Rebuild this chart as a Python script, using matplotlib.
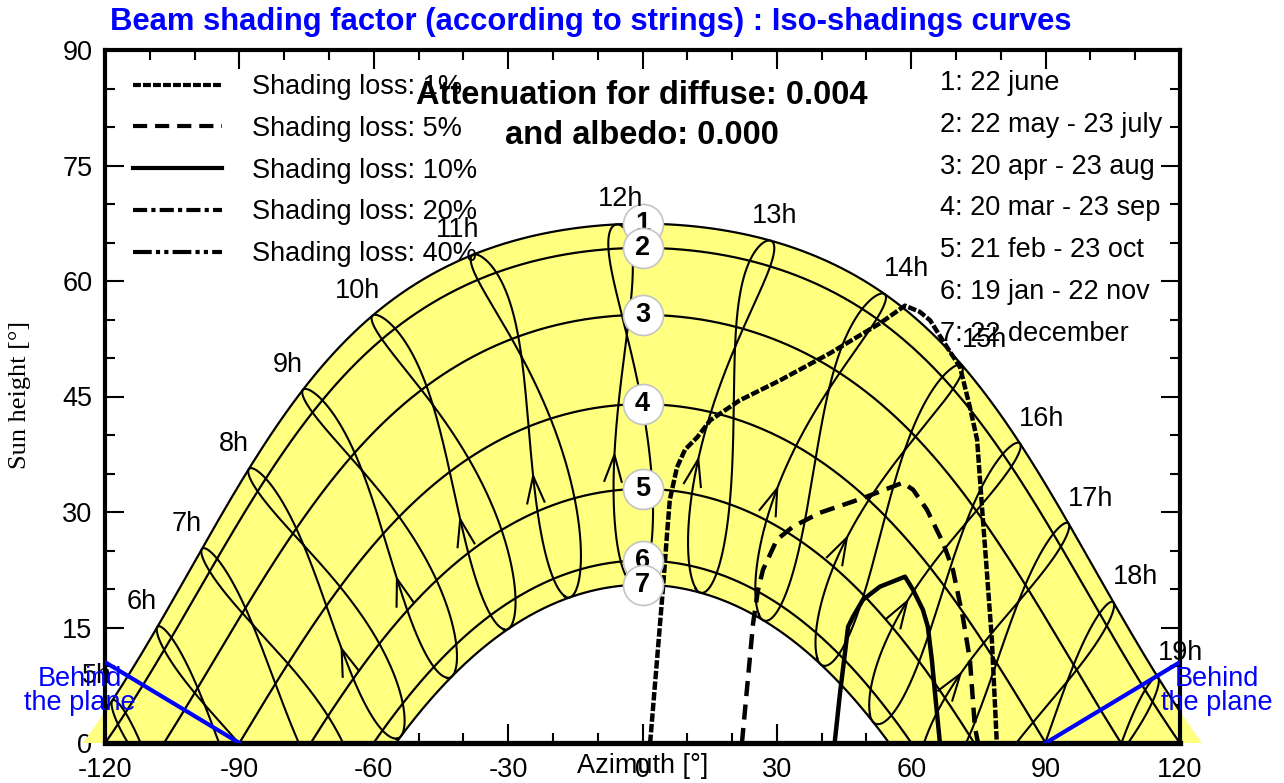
import numpy as np
import matplotlib
matplotlib.use("Agg")
import matplotlib.pyplot as plt
from matplotlib.lines import Line2D
from matplotlib.patches import Rectangle
from matplotlib.ticker import MultipleLocator

# ---------------------------------------------------------------- site / sun path
latitude = 46.0            # degrees north
time_shift_min = -8.0      # legal time -> mean solar time (minutes)
date_numbers = ["1", "2", "3", "4", "5", "6", "7"]
date_labels = ["1: 22 june", "2: 22 may - 23 july", "3: 20 apr - 23 aug",
               "4: 20 mar - 23 sep", "5: 21 feb - 23 oct", "6: 19 jan - 22 nov",
               "7: 22 december"]
declinations = [23.44, 20.3, 11.6, 0.0, -11.0, -20.3, -23.44]
hours = list(range(5, 20))
june_day = 173
arrow_day = 65

# ---------------------------------------------------------------- iso-shading curves
loss1_az = [1.7, 4.6, 5.5, 6.1, 7.7, 9.5, 12.2, 15.1, 21.7, 30.7, 41.8, 53.0, 58.6,
            61.9, 64.2, 68.0, 70.9, 73.1, 74.7, 75.8, 76.9, 78.0, 79.1]
loss1_h = [0.0, 20.3, 27.3, 31.6, 35.8, 38.1, 39.7, 41.9, 44.5, 47.1, 50.6, 54.5, 56.8,
           56.0, 54.9, 51.4, 48.8, 43.6, 39.4, 30.6, 22.1, 13.4, 0.0]
loss5_az = [22.2, 24.7, 25.8, 26.9, 30.0, 33.6, 39.6, 49.2, 58.1, 60.4, 63.5, 67.1,
            69.3, 71.5, 73.1, 74.2, 74.9]
loss5_h = [0.0, 15.6, 19.9, 22.5, 26.4, 28.1, 29.9, 31.8, 33.8, 32.9, 30.3, 26.0,
           22.5, 16.4, 10.8, 2.1, 0.0]
loss10_az = [42.9, 44.1, 45.2, 45.9, 47.0, 49.2, 53.0, 58.6, 60.4, 62.6, 63.7, 64.6,
             65.3, 66.4]
loss10_h = [0.0, 6.5, 11.7, 15.1, 16.4, 18.6, 20.3, 21.6, 19.9, 17.3, 15.1, 10.8,
            6.5, 0.0]
loss_labels = ["Shading loss: 1%", "Shading loss: 5%", "Shading loss: 10%",
               "Shading loss: 20%", "Shading loss: 40%"]

# ---------------------------------------------------------------- plane horizon
behind_left_az = [-120.0, -90.0]
behind_left_h = [10.5, 0.0]
behind_right_az = [90.0, 120.0]
behind_right_h = [0.0, 10.5]

# ---------------------------------------------------------------- styles
FONT = "Liberation Sans"
FS = 19.5
FS_BOLD = 23.5
YELLOW = "#ffff80"
BLUE = "#0000ff"
LOSS_STYLES = [(0, (1.9, 0.5)), (0, (3.4, 1.9)), "-", (0, (3.4, 1.0, 1.0, 1.0)),
               (0, (4.5, 1.0, 1.0, 1.0, 1.0, 1.0))]

plt.rcParams["font.family"] = [FONT, "DejaVu Sans"]
plt.rcParams["axes.unicode_minus"] = False


def sun_position(decl, hour_angle):
    phi = np.radians(latitude)
    d = np.radians(decl)
    H = np.radians(hour_angle)
    sin_h = np.sin(phi) * np.sin(d) + np.cos(phi) * np.cos(d) * np.cos(H)
    h = np.degrees(np.arcsin(np.clip(sin_h, -1, 1)))
    az = np.degrees(np.arctan2(np.sin(H), np.cos(H) * np.sin(phi) - np.tan(d) * np.cos(phi)))
    return az, h


def day_declination(n):
    return 23.44 * np.sin(2 * np.pi * (284 + n) / 365.0)


def equation_of_time(n):
    B = 2 * np.pi * (n - 81) / 364.0
    return 9.87 * np.sin(2 * B) - 7.53 * np.cos(B) - 1.5 * np.sin(B)


def hour_angle(hour, n):
    return 15.0 * (hour + (time_shift_min + equation_of_time(n)) / 60.0 - 12.0)


fig = plt.figure(figsize=(12.84, 7.83), dpi=100)
ax = fig.add_axes([105 / 1284, 1 - 743 / 783, 1075 / 1284, 693 / 783])
ax.set_xlim(-120, 120)
ax.set_ylim(0, 90)
ax.set_axisbelow(True)

# clip everything above the horizon, but let the paths run past the side frame
horizon_clip = Rectangle((-140, 0), 280, 100, transform=ax.transData)

# yellow band between the solstice paths
H_full = np.linspace(-180, 180, 1441)
june_az, june_h = sun_position(declinations[0], H_full)
dec_az, dec_h = sun_position(declinations[-1], H_full)
band = ax.fill(np.concatenate([june_az, dec_az[::-1]]),
               np.concatenate([june_h, dec_h[::-1]]),
               color=YELLOW, lw=0, zorder=1)[0]
band.set_clip_path(horizon_clip)

# date curves
for decl in declinations:
    az, h = sun_position(decl, H_full)
    ln, = ax.plot(az, h, color="black", lw=1.6, zorder=2)
    ln.set_clip_path(horizon_clip)

# hour lines (analemmas) across the year
days = np.linspace(0, 365, 1461)
for hr in hours:
    az, h = sun_position(day_declination(days), hour_angle(hr, days))
    ln, = ax.plot(az, h, color="black", lw=1.5, zorder=2)
    ln.set_clip_path(horizon_clip)

# direction chevrons on the rising branch of each hour line
for hr in hours:
    n0, n1 = arrow_day, arrow_day + 1
    a0, h0 = sun_position(day_declination(n0), hour_angle(hr, n0))
    a1, h1 = sun_position(day_declination(n1), hour_angle(hr, n1))
    if h0 < 3:
        continue
    p0 = ax.transData.transform((a0, h0))
    p1 = ax.transData.transform((a1, h1))
    d = (p1 - p0) / np.linalg.norm(p1 - p0)
    pts = []
    for ang in (18, -18):
        r = np.radians(180 + ang)
        v = np.array([d[0] * np.cos(r) - d[1] * np.sin(r),
                      d[0] * np.sin(r) + d[1] * np.cos(r)])
        pts.append(p0 + v * 28)
    chev = ax.transData.inverted().transform(np.array([pts[0], p0, pts[1]]))
    ax.plot(chev[:, 0], chev[:, 1], color="black", lw=1.5, zorder=2, clip_on=False)

# hour labels near the June path
for hr in hours:
    a, h = sun_position(day_declination(june_day), hour_angle(hr, june_day))
    if hr < 12:
        dx = -15
    elif hr <= 13:
        dx = 4
    else:
        dx = 22
    ax.annotate(f"{hr}h", (a, h), xytext=(dx * 0.72, 18), textcoords="offset points",
                ha="center", va="center", fontsize=FS, annotation_clip=False, zorder=6)

# iso-shading curves
for az, h, style in [(loss1_az, loss1_h, LOSS_STYLES[0]),
                     (loss5_az, loss5_h, LOSS_STYLES[1]),
                     (loss10_az, loss10_h, LOSS_STYLES[2])]:
    ax.plot(az, h, color="black", lw=3.2, linestyle=style, zorder=3)

# behind-the-plane limits
ax.plot(behind_left_az, behind_left_h, color=BLUE, lw=3.0, zorder=4)
ax.plot(behind_right_az, behind_right_h, color=BLUE, lw=3.0, zorder=4)

# date markers at noon
for i, (num, decl) in enumerate(zip(date_numbers, declinations)):
    noon_h = 90.0 - latitude + decl
    ax.scatter([0], [noon_h], s=830, facecolor="white", edgecolor="#c4c4c4",
               linewidth=1.2, zorder=5 + i * 0.1, clip_on=False)
    ax.text(0, noon_h, num, ha="center", va="center", fontsize=FS, fontweight="bold",
            zorder=5.05 + i * 0.1)

# axes cosmetics
ax.xaxis.set_major_locator(MultipleLocator(30))
ax.xaxis.set_minor_locator(MultipleLocator(10))
ax.yaxis.set_major_locator(MultipleLocator(15))
ax.yaxis.set_minor_locator(MultipleLocator(5))
ax.tick_params(which="both", direction="in", top=True, right=True, width=1.5,
               labelsize=FS)
ax.tick_params(which="major", length=14)
ax.tick_params(which="minor", length=7)
ax.tick_params(axis="x", pad=10)
ax.tick_params(axis="y", pad=9)
for s in ax.spines.values():
    s.set_linewidth(3.0)
ax.spines["bottom"].set_linewidth(3.8)

ax.set_xlabel("Azimuth [°]", fontsize=FS)
ax.xaxis.set_label_coords(0.5, -0.033)
ax.xaxis.label.set_va("center")
ax.set_ylabel("Sun height [°]", fontsize=19, family=["Liberation Serif", "DejaVu Serif"])
ax.yaxis.set_label_coords(-0.079, 0.502)
ax.yaxis.label.set_va("center")

# legend of the iso-shading line types
handles = [Line2D([], [], color="black", lw=3.0, linestyle=st) for st in LOSS_STYLES]
ax.legend(handles, loss_labels, loc="upper left", bbox_to_anchor=(0.026, 0.965),
          frameon=False, fontsize=FS, handlelength=3.3, handletextpad=1.1,
          labelspacing=0.58, borderaxespad=0, borderpad=0)

# date list
for i, lab in enumerate(date_labels):
    fig.text(940 / 1284, 1 - (83 + i * 41.8) / 783, lab, ha="left", va="center",
             fontsize=FS, zorder=6)

# header texts
fig.text(110 / 1284, 1 - 22 / 783,
         "Beam shading factor (according to strings) : Iso-shadings curves",
         ha="left", va="center", fontsize=22.3, fontweight="bold", color=BLUE)
fig.text(642 / 1284, 1 - 95 / 783, "Attenuation for diffuse: 0.004", ha="center",
         va="center", fontsize=FS_BOLD, fontweight="bold", zorder=6)
fig.text(642 / 1284, 1 - 135 / 783, "and albedo: 0.000", ha="center",
         va="center", fontsize=FS_BOLD, fontweight="bold", zorder=6)

# behind-the-plane captions
fig.text(80 / 1284, 1 - 691 / 783, "Behind\nthe plane", ha="center", va="center",
         fontsize=FS, color=BLUE, linespacing=0.95, zorder=7)
fig.text(1217 / 1284, 1 - 691 / 783, "Behind\nthe plane", ha="center", va="center",
         fontsize=FS, color=BLUE, linespacing=0.95, zorder=7)

fig.savefig("out.png", dpi=100)
